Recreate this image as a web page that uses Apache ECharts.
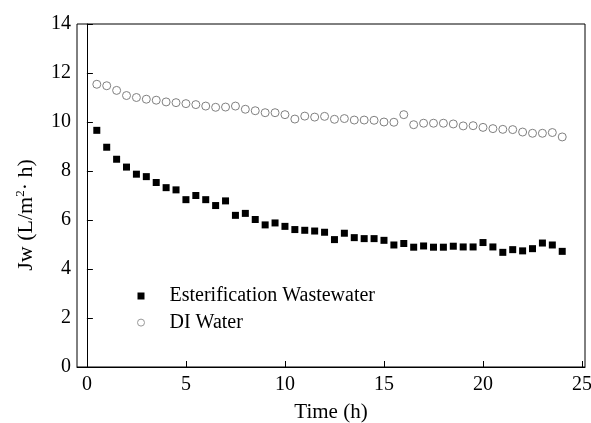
<!DOCTYPE html>
<html>
<head>
<meta charset="utf-8">
<script src="https://cdn.jsdelivr.net/npm/echarts@6/dist/echarts.min.js"></script>
<style>html,body{margin:0;padding:0;background:#fff}#c{width:591px;height:423px}</style>
</head>
<body>
<div id="c"></div>
<script>
var times = [0.5,1,1.5,2,2.5,3,3.5,4,4.5,5,5.5,6,6.5,7,7.5,8,8.5,9,9.5,10,10.5,11,11.5,12,
             12.5,13,13.5,14,14.5,15,15.5,16,16.5,17,17.5,18,18.5,19,19.5,20,20.5,21,21.5,22,22.5,23,23.5,24];
var wastewater = [9.66,8.97,8.48,8.16,7.87,7.77,7.53,7.32,7.23,6.83,7.0,6.83,6.59,6.78,6.19,6.27,6.02,5.8,5.88,5.74,5.61,5.58,5.55,5.5,
                  5.2,5.46,5.28,5.24,5.24,5.17,4.98,5.04,4.89,4.94,4.89,4.89,4.93,4.9,4.9,5.08,4.9,4.68,4.79,4.74,4.83,5.06,4.98,4.72];
var diWater = [11.54,11.48,11.29,11.08,11.0,10.93,10.89,10.82,10.79,10.75,10.71,10.65,10.6,10.61,10.65,10.52,10.46,10.38,10.38,10.3,10.12,10.24,10.2,10.23,
               10.11,10.14,10.08,10.08,10.07,10.0,9.99,10.3,9.89,9.95,9.95,9.95,9.92,9.84,9.85,9.78,9.73,9.7,9.69,9.59,9.54,9.54,9.57,9.39];
var xTicks = [0,5,10,15,20,25];
var seriesNames = ['Esterification Wastewater','DI Water'];

function pairs(xs, ys){ return xs.map(function(x,i){ return [x, ys[i]]; }); }

var FONT = 'Liberation Serif';
var chart = echarts.init(document.getElementById('c'), null, {renderer:'canvas'});
chart.setOption({
  animation: false,
  backgroundColor: '#fff',
  grid: {left: 77, right: 6, top: 24, bottom: 56, containLabel: false, outerBoundsMode: 'none',
         show: true, borderColor: '#000', borderWidth: 1},
  xAxis: {
    type: 'value', min: -0.5, max: 25.15,
    name: 'Time (h)', nameLocation: 'middle', nameGap: 35,
    nameTextStyle: {fontFamily: FONT, fontSize: 21, color: '#000'},
    axisLine: {show: true, lineStyle: {color: '#000', width: 1}},
    axisTick: {show: true, inside: true, length: 6, lineStyle: {color: '#000'}, customValues: xTicks},
    axisLabel: {fontFamily: FONT, fontSize: 20, color: '#000', margin: 8, customValues: xTicks},
    splitLine: {show: false}
  },
  yAxis: {
    type: 'value', min: 0, max: 14, interval: 2,
    name: 'Jw (L/m{sup|2}· h)', nameLocation: 'middle', nameGap: 38, nameRotate: 90,
    nameTextStyle: {fontFamily: FONT, fontSize: 22, color: '#000', padding: [0, 39, 0, 0],
      rich: {sup: {fontFamily: FONT, fontSize: 13, color: '#000', verticalAlign: 'top', padding: [0,0,12,0]}}},
    axisLine: {show: true, lineStyle: {color: '#000', width: 1}},
    axisTick: {show: true, inside: true, length: 6, lineStyle: {color: '#000'}},
    axisLabel: {fontFamily: FONT, fontSize: 20, color: '#000', margin: 6},
    splitLine: {show: false}
  },
  legend: {
    orient: 'vertical', left: 137, top: 286, padding: 0,
    itemWidth: 7, itemHeight: 7, itemGap: 6.6,
    textStyle: {fontFamily: FONT, fontSize: 20, color: '#000', lineHeight: 20, padding: [0, 0, 0, 20]},
    data: [
      {name: seriesNames[0], icon: 'rect', itemStyle: {color: '#000', borderWidth: 0}},
      {name: seriesNames[1], icon: 'circle', itemStyle: {color: '#fff', borderColor: '#999', borderWidth: 1}}
    ]
  },
  series: [
    {name: seriesNames[0], type: 'scatter', symbol: 'rect', symbolSize: 7,
     itemStyle: {color: '#000', opacity: 1}, data: pairs(times, wastewater)},
    {name: seriesNames[1], type: 'scatter', symbol: 'circle', symbolSize: 8,
     itemStyle: {color: '#fff', borderColor: '#808080', borderWidth: 1, opacity: 1}, data: pairs(times, diWater)}
  ]
});
</script>
</body>
</html>
